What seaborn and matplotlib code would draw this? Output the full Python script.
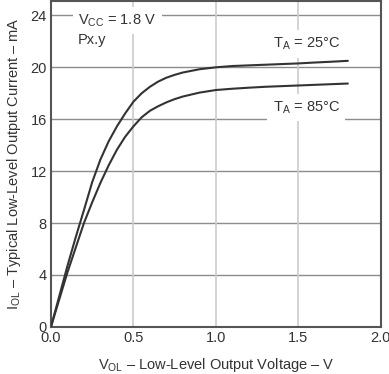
import numpy as np
import pandas as pd
import matplotlib
matplotlib.use('Agg')
import matplotlib.pyplot as plt
import seaborn as sns

# ── DATA ────────────────────────────────────────────────────
v_ol = [0.0, 0.05, 0.1, 0.15, 0.2, 0.25, 0.3, 0.35, 0.4, 0.45, 0.5,
        0.55, 0.6, 0.65, 0.7, 0.75, 0.8, 0.9, 1.0, 1.1, 1.2, 1.3,
        1.4, 1.5, 1.6, 1.7, 1.8]
i_25 = [0.0, 2.35, 4.7, 6.9, 9.0, 11.15, 12.9, 14.3, 15.45, 16.45, 17.35,
        18.0, 18.5, 18.9, 19.2, 19.42, 19.6, 19.85, 20.0, 20.1, 20.15,
        20.2, 20.25, 20.3, 20.37, 20.43, 20.5]
i_85 = [0.0, 2.1, 4.2, 6.1, 8.0, 9.6, 11.1, 12.45, 13.65, 14.65, 15.45,
        16.15, 16.65, 17.0, 17.3, 17.55, 17.75, 18.05, 18.25, 18.35, 18.43,
        18.5, 18.55, 18.6, 18.65, 18.7, 18.75]
x_ticks = [0.0, 0.5, 1.0, 1.5, 2.0]
y_ticks = [0, 4, 8, 12, 16, 20, 24]

df = pd.DataFrame({
    'V': v_ol * 2,
    'I': i_25 + i_85,
    'T': ['25'] * len(v_ol) + ['85'] * len(v_ol),
})

sns.set_style('white')
plt.rcParams['font.family'] = ['Liberation Sans', 'DejaVu Sans']
plt.rcParams['mathtext.fontset'] = 'custom'
plt.rcParams['mathtext.rm'] = 'Liberation Sans'

fig = plt.figure(figsize=(3.89, 3.74), dpi=100)
ax = fig.add_axes([0.131, 0.126, 0.848, 0.871])

# grid: horizontal darker, vertical lighter
for y in y_ticks[1:]:
    ax.axhline(y, color='#8c8c8c', lw=1.0, zorder=0)
for x in x_ticks[1:-1]:
    ax.axvline(x, color='#cccccc', lw=1.2, zorder=0)

sns.lineplot(data=df, x='V', y='I', units='T', estimator=None,
             color='#333333', lw=1.5, ax=ax, zorder=3)

ax.set_xlim(0, 2.0)
ax.set_ylim(0, 25.1)
ax.set_xticks(x_ticks)
ax.set_xticklabels([f'{t:.1f}' for t in x_ticks])
ax.set_yticks(y_ticks)
ax.tick_params(length=0, labelsize=10.5, colors='#333333', pad=3)

for s in ax.spines.values():
    s.set_color('#555555')
    s.set_linewidth(1.5)

ax.set_xlabel(r'V$_{\mathregular{OL}}$ – Low-Level Output Voltage – V',
              fontsize=10.5, color='#333333', labelpad=8)
ax.set_ylabel(r'I$_{\mathregular{OL}}$ – Typical Low-Level Output Current – mA',
              fontsize=10.5, color='#333333', labelpad=5)

box = dict(facecolor='white', edgecolor='none', pad=4)
ax.text(0.165, 23.6, r'V$_{\mathregular{CC}}$ = 1.8 V', fontsize=10.5,
        color='#333333', va='center', bbox=box, zorder=4)
ax.text(0.165, 22.1, 'Px.y', fontsize=10.5, color='#333333',
        va='center', bbox=box, zorder=4)
ax.text(1.345, 21.8, r'T$_{\mathregular{A}}$ = 25°C', fontsize=10.5,
        color='#333333', va='center', bbox=box, zorder=4)
ax.text(1.345, 16.9, r'T$_{\mathregular{A}}$ = 85°C', fontsize=10.5,
        color='#333333', va='center', bbox=box, zorder=4)

plt.savefig('out.png', dpi=100)
